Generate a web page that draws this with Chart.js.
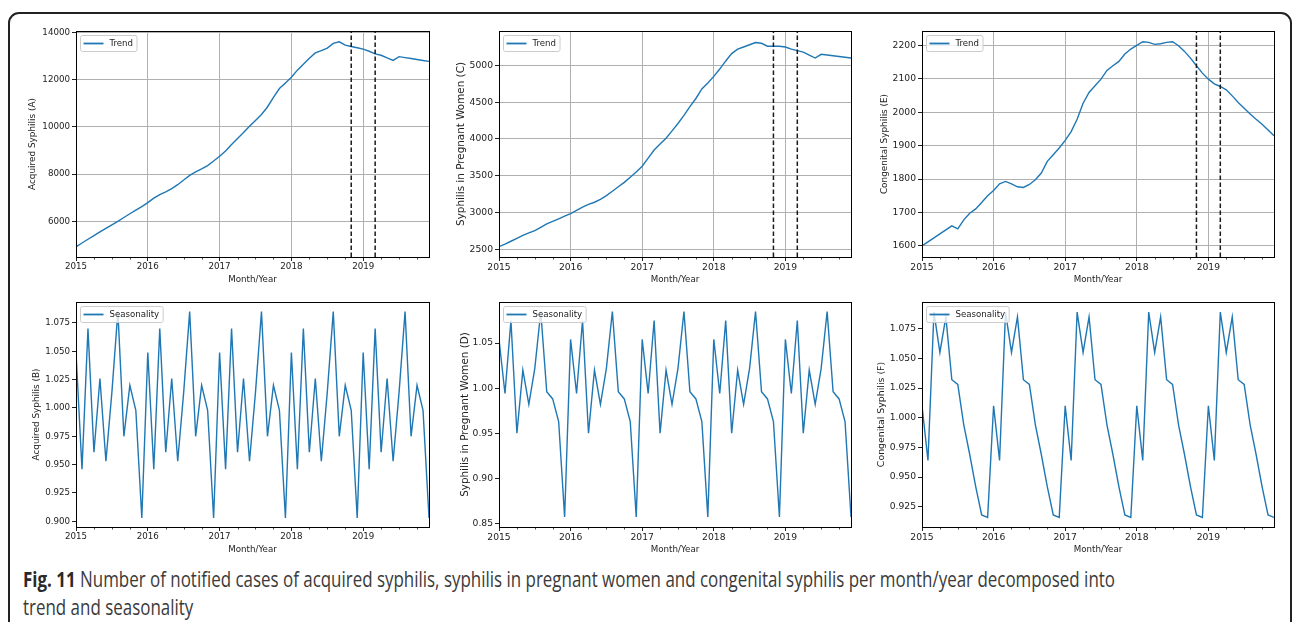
<!DOCTYPE html>
<html>
<head>
<meta charset="utf-8">
<script src="https://cdn.jsdelivr.net/npm/chart.js@4.4.0/dist/chart.umd.min.js"></script>
<style>
  html, body { margin: 0; padding: 0; background: #fff; }
  body { width: 1292px; height: 622px; position: relative; overflow: hidden; }
  #frame { position: absolute; left: 8px; top: 12px; width: 1280px; height: 700px; border: 2px solid #222; border-radius: 11px; }
  canvas { position: absolute; }
  .cap { position: absolute; left: 23px; font-family: 'Open Sans', sans-serif; font-size: 21px; line-height: 28px; color: #3a3a3a; white-space: nowrap; transform-origin: 0 0; }
  .cap b { color: #2a2a2a; }
</style>
</head>
<body>
<div id="frame"></div>
<canvas id="cA"></canvas>
<canvas id="cC"></canvas>
<canvas id="cE"></canvas>
<canvas id="cB"></canvas>
<canvas id="cD"></canvas>
<canvas id="cF"></canvas>
<div class="cap" id="cap1" style="top:565px"><b>Fig. 11</b> Number of notified cases of acquired syphilis, syphilis in pregnant women and congenital syphilis per month/year decomposed into</div>
<div class="cap" id="cap2" style="top:593px">trend and seasonality</div>
<script>
//  data
const years = [2015, 2016, 2017, 2018, 2019];
const months = [];
years.forEach(y => {
  for (let m = 1; m <= 12; m++) months.push(`${y}-${String(m).padStart(2, '0')}`);
});
const breakMonths = ['2018-11', '2019-03'];

const xTicks = [2015, 2016, 2017, 2018, 2019];
const xMinorTicks = [2015.25, 2015.5, 2015.75, 2016.25, 2016.5, 2016.75, 2017.25, 2017.5, 2017.75,
                     2018.25, 2018.5, 2018.75, 2019.25, 2019.5, 2019.75];

const trendA = [
  4920, 5080, 5240, 5390, 5550, 5700, 5850, 6000, 6160, 6320, 6470, 6620,
  6790, 6980, 7130, 7250, 7380, 7550, 7750, 7945, 8090, 8220, 8360, 8550,
  8750, 8980, 9250, 9510, 9760, 10020, 10270, 10520, 10840, 11250, 11620, 11860,
  12100, 12400, 12650, 12900, 13130, 13230, 13330, 13530, 13600, 13460, 13400, 13350,
  13290, 13200, 13090, 13030, 12920, 12810, 12970, 12930, 12890, 12850, 12810, 12770
];
const trendC = [
  2536, 2570, 2610, 2650, 2690, 2725, 2755, 2800, 2845, 2880, 2915, 2950,
  2985, 3030, 3075, 3110, 3140, 3180, 3230, 3290, 3350, 3410, 3480, 3550,
  3630, 3740, 3850, 3930, 4010, 4110, 4210, 4320, 4440, 4550, 4680, 4760,
  4850, 4950, 5060, 5160, 5220, 5250, 5280, 5310, 5300, 5260, 5260, 5260,
  5250, 5220, 5200, 5180, 5140, 5100, 5150, 5140, 5130, 5120, 5110, 5100
];
const trendE = [
  1600, 1612, 1624, 1636, 1648, 1660, 1651, 1678, 1698, 1711, 1730, 1750,
  1766, 1786, 1793, 1786, 1777, 1775, 1784, 1798, 1818, 1853, 1873, 1893,
  1916, 1942, 1979, 2027, 2059, 2079, 2099, 2125, 2139, 2152, 2174, 2189,
  2200, 2211, 2209, 2203, 2205, 2209, 2211, 2199, 2182, 2162, 2139, 2117,
  2099, 2085, 2077, 2067, 2049, 2029, 2012, 1995, 1979, 1964, 1947, 1930
];
const seasonB = [
  1.049, 0.946, 1.070, 0.961, 1.026, 0.953, 1.014, 1.085, 0.975, 1.020, 0.998, 0.903,
  1.049, 0.946, 1.070, 0.961, 1.026, 0.953, 1.014, 1.085, 0.975, 1.020, 0.998, 0.903,
  1.049, 0.946, 1.070, 0.961, 1.026, 0.953, 1.014, 1.085, 0.975, 1.020, 0.998, 0.903,
  1.049, 0.946, 1.070, 0.961, 1.026, 0.953, 1.014, 1.085, 0.975, 1.020, 0.998, 0.903,
  1.049, 0.946, 1.070, 0.961, 1.026, 0.953, 1.014, 1.085, 0.975, 1.020, 0.998, 0.903
];
const seasonD = [
  1.054, 0.994, 1.075, 0.950, 1.020, 0.982, 1.022, 1.085, 0.996, 0.988, 0.963, 0.857,
  1.054, 0.994, 1.075, 0.950, 1.020, 0.982, 1.022, 1.085, 0.996, 0.988, 0.963, 0.857,
  1.054, 0.994, 1.075, 0.950, 1.020, 0.982, 1.022, 1.085, 0.996, 0.988, 0.963, 0.857,
  1.054, 0.994, 1.075, 0.950, 1.020, 0.982, 1.022, 1.085, 0.996, 0.988, 0.963, 0.857,
  1.054, 0.994, 1.075, 0.950, 1.020, 0.982, 1.022, 1.085, 0.996, 0.988, 0.963, 0.857
];
const seasonF = [
  1.010, 0.964, 1.089, 1.055, 1.085, 1.032, 1.028, 0.994, 0.969, 0.942, 0.918, 0.916,
  1.010, 0.964, 1.089, 1.055, 1.085, 1.032, 1.028, 0.994, 0.969, 0.942, 0.918, 0.916,
  1.010, 0.964, 1.089, 1.055, 1.085, 1.032, 1.028, 0.994, 0.969, 0.942, 0.918, 0.916,
  1.010, 0.964, 1.089, 1.055, 1.085, 1.032, 1.028, 0.994, 0.969, 0.942, 0.918, 0.916,
  1.010, 0.964, 1.089, 1.055, 1.085, 1.032, 1.028, 0.994, 0.969, 0.942, 0.918, 0.916
];

const yTicksA = [6000, 8000, 10000, 12000, 14000];
const yTicksC = [2500, 3000, 3500, 4000, 4500, 5000];
const yTicksE = [1600, 1700, 1800, 1900, 2000, 2100, 2200];
const yTicksB = [0.900, 0.925, 0.950, 0.975, 1.000, 1.025, 1.050, 1.075];
const yTicksD = [0.85, 0.90, 0.95, 1.00, 1.05];
const yTicksF = [0.925, 0.950, 0.975, 1.000, 1.025, 1.050, 1.075];
//  data ends

function toX(ym) {
  const [y, m] = ym.split('-').map(Number);
  return y + (m - 1) / 12;
}

// matplotlib-like frame, minor ticks and legend box
const mplFrame = {
  id: 'mplFrame',
  afterDatasetsDraw(chart, args, opts) {
    const {ctx, chartArea: a, scales} = chart;
    ctx.save();
    ctx.strokeStyle = '#222';
    ctx.lineWidth = 0.8;
    xMinorTicks.forEach(v => {
      const px = Math.round(scales.x.getPixelForValue(v)) + 0.5;
      ctx.beginPath();
      ctx.moveTo(px, a.bottom);
      ctx.lineTo(px, a.bottom + 2.5);
      ctx.stroke();
    });
    ctx.strokeStyle = '#000';
    ctx.lineWidth = 1;
    ctx.strokeRect(Math.round(a.left) + 0.5, Math.round(a.top) + 0.5,
                   Math.round(a.right - a.left), Math.round(a.bottom - a.top));

    ctx.font = `${opts.font}px "DejaVu Sans"`;
    const tw = ctx.measureText(opts.label).width;
    const bx = a.left + 4.5, by = a.top + 4.5, bw = tw + 33, bh = 16;
    ctx.fillStyle = 'rgba(255,255,255,0.8)';
    ctx.strokeStyle = '#cccccc';
    ctx.beginPath();
    if (ctx.roundRect) ctx.roundRect(bx, by, bw, bh, 2); else ctx.rect(bx, by, bw, bh);
    ctx.fill();
    ctx.stroke();
    ctx.strokeStyle = '#1f77b4';
    ctx.lineWidth = 1.8;
    ctx.beginPath();
    ctx.moveTo(bx + 3, by + bh / 2);
    ctx.lineTo(bx + 23, by + bh / 2);
    ctx.stroke();
    ctx.fillStyle = '#222';
    ctx.textBaseline = 'middle';
    ctx.fillText(opts.label, bx + 29, by + bh / 2 + 0.5);
    ctx.restore();
  }
};

const panels = [
  {id: 'cA', left: 76, top: 31, w: 353, h: 226, values: trendA, yRange: [4488, 14057], yTicks: yTicksA, dec: 0,
   label: 'Acquired Syphilis (A)', legend: 'Trend', grid: true, breaks: true, tickSize: 8.7, titleSize: 8.9, titleDist: 43},
  {id: 'cC', left: 499, top: 31, w: 352, h: 226, values: trendC, yRange: [2396, 5467], yTicks: yTicksC, dec: 0,
   label: 'Syphilis in Pregnant Women (C)', legend: 'Trend', grid: true, breaks: true, tickSize: 9.2, titleSize: 10.4, titleDist: 37.5},
  {id: 'cE', left: 922, top: 31, w: 352, h: 226, values: trendE, yRange: [1567, 2243], yTicks: yTicksE, dec: 0,
   label: 'Congenital Syphilis (E)', legend: 'Trend', grid: true, breaks: true, tickSize: 9.2, titleSize: 8.9, titleDist: 37.6},
  {id: 'cB', left: 76, top: 302, w: 353, h: 225, values: seasonB, yRange: [0.895, 1.0935], yTicks: yTicksB, dec: 3,
   label: 'Acquired Syphilis (B)', legend: 'Seasonality', grid: false, breaks: false, tickSize: 8.7, titleSize: 8.9, titleDist: 39.6},
  {id: 'cD', left: 499, top: 302, w: 352, h: 225, values: seasonD, yRange: [0.846, 1.0955], yTicks: yTicksD, dec: 2,
   label: 'Syphilis in Pregnant Women (D)', legend: 'Seasonality', grid: false, breaks: false, tickSize: 9.2, titleSize: 10.4, titleDist: 34},
  {id: 'cF', left: 922, top: 302, w: 352, h: 225, values: seasonF, yRange: [0.9079, 1.0975], yTicks: yTicksF, dec: 3,
   label: 'Congenital Syphilis (F)', legend: 'Seasonality', grid: false, breaks: false, tickSize: 9.2, titleSize: 9.4, titleDist: 40.3}
];

function makePanel(p) {
  const cv = document.getElementById(p.id);
  cv.width = p.w + 84;
  cv.height = p.h + 38;
  cv.style.left = (p.left - 76) + 'px';
  cv.style.top = (p.top - 8) + 'px';
  const [yMin, yMax] = p.yRange;

  const datasets = [];
  if (p.breaks) {
    breakMonths.forEach(m => {
      datasets.push({
        data: [{x: toX(m), y: yMin}, {x: toX(m), y: yMax}],
        borderColor: '#1a1a1a', borderWidth: 1.5, borderDash: [4.5, 2.5], pointRadius: 0
      });
    });
  }
  datasets.push({
    label: p.legend,
    data: p.values.map((v, i) => ({x: toX(months[i]), y: v})),
    borderColor: '#1f77b4', borderWidth: 1.4, pointRadius: 0, tension: 0
  });

  const titleLh = p.titleSize * 1.2;
  new Chart(cv, {
    type: 'line',
    data: {datasets},
    options: {
      responsive: false,
      animation: false,
      layout: {padding: {left: 0, top: 8, right: 8, bottom: 0}},
      plugins: {
        legend: {display: false},
        tooltip: {enabled: false},
        mplFrame: {label: p.legend, font: 8.6}
      },
      scales: {
        x: {
          type: 'linear',
          min: 2015,
          max: toX(months[months.length - 1]),
          afterBuildTicks: axis => { axis.ticks = xTicks.map(v => ({value: v})); },
          afterFit: scale => { scale.height = 30; },
          ticks: {font: {family: 'DejaVu Sans', size: p.tickSize}, color: '#222', padding: 1,
                  maxRotation: 0, autoSkip: false, callback: v => String(v)},
          grid: {drawOnChartArea: p.grid, color: '#b0b0b0', lineWidth: 1, tickLength: 4, tickColor: '#222'},
          border: {display: false},
          title: {display: true, text: 'Month/Year', color: '#222',
                  font: {family: 'DejaVu Sans', size: 8.7}, padding: {top: 0, bottom: 2.3}}
        },
        y: {
          min: yMin,
          max: yMax,
          afterBuildTicks: axis => { axis.ticks = p.yTicks.map(v => ({value: v})); },
          afterFit: scale => { scale.width = 76; },
          ticks: {font: {family: 'DejaVu Sans', size: p.tickSize}, color: '#222', padding: 2,
                  autoSkip: false, callback: v => v.toFixed(p.dec)},
          grid: {drawOnChartArea: p.grid, color: '#b0b0b0', lineWidth: 1, tickLength: 4, tickColor: '#222'},
          border: {display: false},
          title: {display: true, text: p.label, color: '#222',
                  font: {family: 'DejaVu Sans', size: p.titleSize},
                  padding: {top: 76 - p.titleDist - titleLh / 2, bottom: 0}}
        }
      }
    },
    plugins: [mplFrame]
  });
}

panels.forEach(makePanel);

// caption uses a condensed look: squeeze to the original line width
const cap1 = document.getElementById('cap1');
const capScale = 1092 / cap1.getBoundingClientRect().width;
document.querySelectorAll('.cap').forEach(el => { el.style.transform = `scaleX(${capScale})`; });
</script>
</body>
</html>
